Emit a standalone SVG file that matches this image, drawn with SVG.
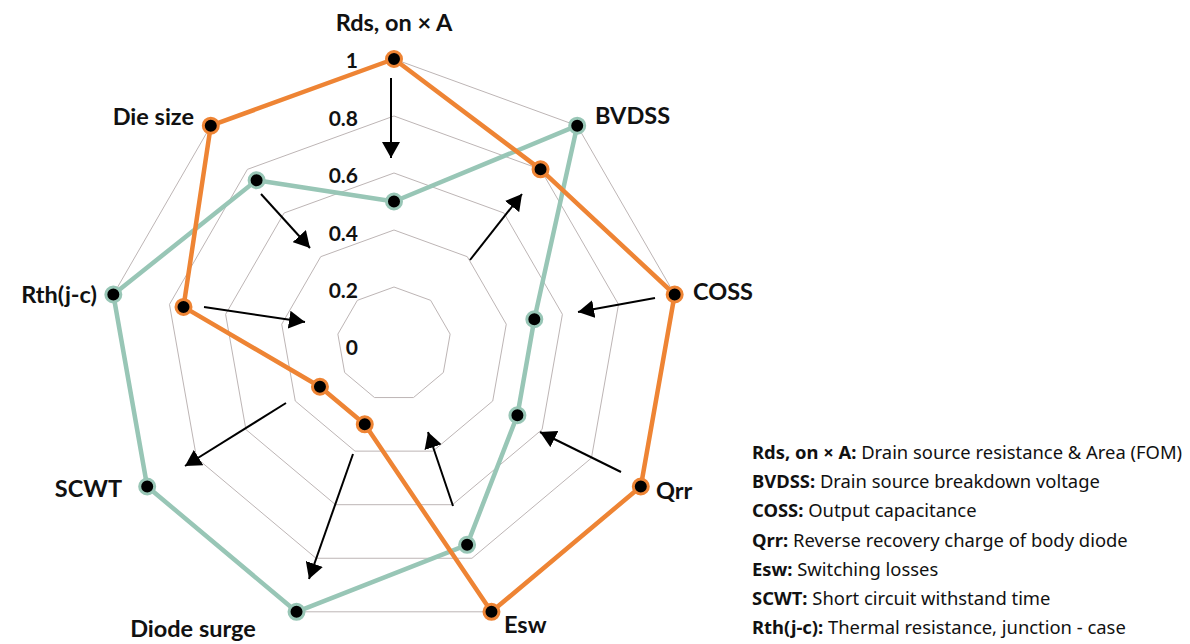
<svg xmlns="http://www.w3.org/2000/svg" width="1190" height="644" viewBox="0 0 1190 644">
<style>
.grid{fill:none;stroke:#bdb5b5;stroke-width:1}
.s-green{fill:none;stroke:#98c6b6;stroke-width:4.5;stroke-linejoin:round}
.s-orange{fill:none;stroke:#ee8434;stroke-width:4.5;stroke-linejoin:round}
.dot-g{fill:#000;stroke:#98c6b6;stroke-width:3}
.dot-o{fill:#000;stroke:#ee8434;stroke-width:3}
.arrow{stroke:#000;stroke-width:2;fill:none;marker-end:url(#ah)}
.lbl{font-family:Lato,"Noto Sans",sans-serif;font-weight:700;font-size:23.5px;fill:#111}
.tick{font-family:Lato,"Noto Sans",sans-serif;font-weight:700;font-size:21px;fill:#111;text-anchor:end}
.leg{font-family:"Noto Sans",Lato,sans-serif;font-size:18.4px;fill:#111}
.leg .b{font-weight:700}
</style>
<defs>
<marker id="ah" viewBox="0 0 16 18" refX="16" refY="9" markerWidth="16" markerHeight="18" markerUnits="userSpaceOnUse" orient="auto">
<path d="M0,0 L16,9 L0,18 Z" fill="#000"/>
</marker>
</defs>
<rect width="1190" height="644" fill="#fff"/>
<g id="grid">
<polygon class="grid" points="394,287 430.64,300.34 450.13,334.10 443.36,372.5 413.49,397.56 374.51,397.56 344.64,372.5 337.87,334.10 357.36,300.34"/>
<polygon class="grid" points="394,230 467.28,256.68 506.27,324.21 492.72,401 432.99,451.13 355.01,451.13 295.28,401 281.73,324.21 320.72,256.68"/>
<polygon class="grid" points="394,173 503.92,213.01 562.40,314.31 542.09,429.5 452.48,504.69 335.52,504.69 245.91,429.5 225.60,314.31 284.08,213.01"/>
<polygon class="grid" points="394,116 540.56,169.35 618.53,304.42 591.45,458 471.98,558.25 316.02,558.25 196.55,458 169.47,304.42 247.44,169.35"/>
<polygon class="grid" points="394,59 577.20,125.69 674.67,294.51 640.81,486.5 491.47,611.81 296.53,611.81 147.19,486.5 113.33,294.51 210.80,125.69"/>
</g>
<g id="ticks">
<text class="tick" x="358" y="68">1</text>
<text class="tick" x="358" y="126">0.8</text>
<text class="tick" x="358" y="183">0.6</text>
<text class="tick" x="358" y="241">0.4</text>
<text class="tick" x="358" y="298">0.2</text>
<text class="tick" x="358" y="355">0</text>
</g>
<g id="connectors">
<line class="arrow" x1="391" y1="78" x2="391" y2="158"/>
<line class="arrow" x1="261" y1="194" x2="310" y2="248"/>
<line class="arrow" x1="470" y1="260" x2="522" y2="194"/>
<line class="arrow" x1="204" y1="307" x2="305" y2="322"/>
<line class="arrow" x1="655" y1="298" x2="578" y2="312"/>
<line class="arrow" x1="621" y1="472" x2="540" y2="432"/>
<line class="arrow" x1="453" y1="506" x2="428" y2="432"/>
<line class="arrow" x1="353" y1="454" x2="309" y2="579"/>
<line class="arrow" x1="286" y1="403" x2="185" y2="466"/>
</g>
<g id="series-green">
<polygon class="s-green" points="394,201.5 577.20,125.69 534.33,319.26 517.41,415.25 467.10,544.86 296.53,611.81 147.19,486.5 113.33,294.51 256.60,180.26"/>
</g>
<g id="series-orange">
<polygon class="s-orange" points="394,59 540.56,169.35 674.67,294.51 640.81,486.5 491.47,611.81 364.76,424.34 319.96,386.75 183.50,306.89 210.80,125.69"/>
</g>
<g id="points-green">
<circle class="dot-g" cx="394" cy="201.5" r="7.5"/>
<circle class="dot-g" cx="577.20" cy="125.69" r="7.5"/>
<circle class="dot-g" cx="534.33" cy="319.26" r="7.5"/>
<circle class="dot-g" cx="517.41" cy="415.25" r="7.5"/>
<circle class="dot-g" cx="467.10" cy="544.86" r="7.5"/>
<circle class="dot-g" cx="296.53" cy="611.81" r="7.5"/>
<circle class="dot-g" cx="147.19" cy="486.5" r="7.5"/>
<circle class="dot-g" cx="113.33" cy="294.51" r="7.5"/>
<circle class="dot-g" cx="256.60" cy="180.26" r="7.5"/>
</g>
<g id="points-orange">
<circle class="dot-o" cx="394" cy="59" r="7.5"/>
<circle class="dot-o" cx="540.56" cy="169.35" r="7.5"/>
<circle class="dot-o" cx="674.67" cy="294.51" r="7.5"/>
<circle class="dot-o" cx="640.81" cy="486.5" r="7.5"/>
<circle class="dot-o" cx="491.47" cy="611.81" r="7.5"/>
<circle class="dot-o" cx="364.76" cy="424.34" r="7.5"/>
<circle class="dot-o" cx="319.96" cy="386.75" r="7.5"/>
<circle class="dot-o" cx="183.50" cy="306.89" r="7.5"/>
<circle class="dot-o" cx="210.80" cy="125.69" r="7.5"/>
</g>
<g id="axis-labels">
<text class="lbl" x="394" y="31" text-anchor="middle">Rds, on × A</text>
<text class="lbl" x="595" y="124">BVDSS</text>
<text class="lbl" x="693" y="300">COSS</text>
<text class="lbl" x="656" y="499">Qrr</text>
<text class="lbl" x="504" y="633">Esw</text>
<text class="lbl" x="193" y="637" text-anchor="middle">Diode surge</text>
<text class="lbl" x="122" y="497" text-anchor="end">SCWT</text>
<text class="lbl" x="97" y="303" text-anchor="end">Rth(j-c)</text>
<text class="lbl" x="194" y="125" text-anchor="end">Die size</text>
</g>
<g id="legend" class="leg">
<text x="752" y="459"><tspan class="b">Rds, on × A:</tspan> Drain source resistance &amp; Area (FOM)</text>
<text x="752" y="488.2"><tspan class="b">BVDSS:</tspan> Drain source breakdown voltage</text>
<text x="752" y="517.4"><tspan class="b">COSS:</tspan> Output capacitance</text>
<text x="752" y="546.6"><tspan class="b">Qrr:</tspan> Reverse recovery charge of body diode</text>
<text x="752" y="575.8"><tspan class="b">Esw:</tspan> Switching losses</text>
<text x="752" y="605"><tspan class="b">SCWT:</tspan> Short circuit withstand time</text>
<text x="752" y="634.2"><tspan class="b">Rth(j-c):</tspan> Thermal resistance, junction - case</text>
</g>
</svg>
